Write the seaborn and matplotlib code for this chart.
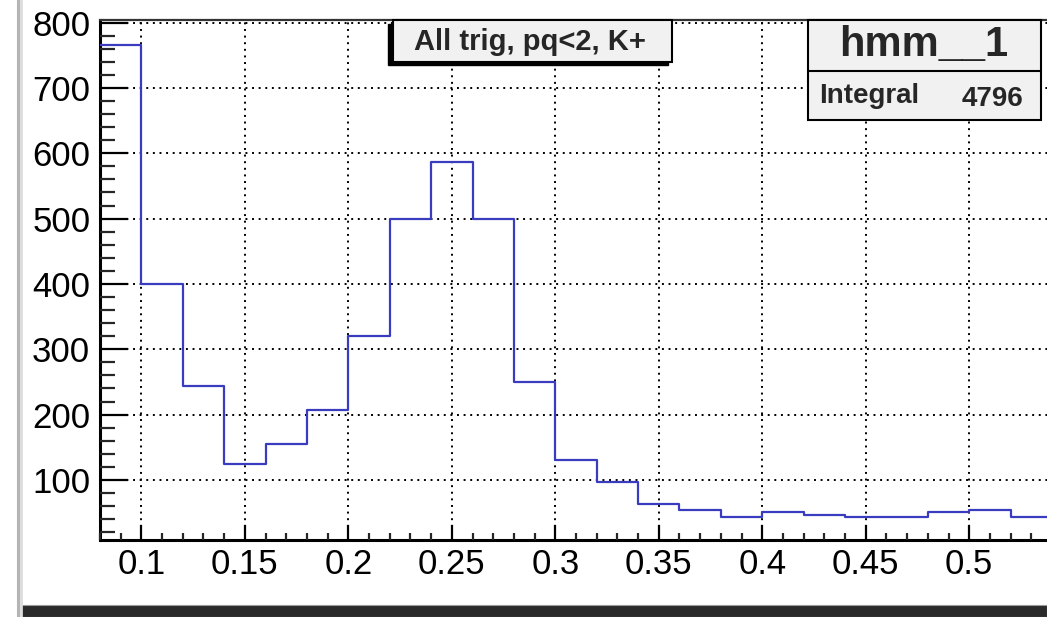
import numpy as np
import pandas as pd
import matplotlib
matplotlib.use("Agg")
import matplotlib.pyplot as plt
from matplotlib.patches import Rectangle
from matplotlib.lines import Line2D
from matplotlib.ticker import MultipleLocator
import seaborn as sns

# ---- data ----
bin_edges = [0.08, 0.10, 0.12, 0.14, 0.16, 0.18, 0.20, 0.22, 0.24, 0.26, 0.28, 0.30,
             0.32, 0.34, 0.36, 0.38, 0.40, 0.42, 0.44, 0.46, 0.48, 0.50, 0.52, 0.54]
counts = [765, 400, 243, 125, 155, 207, 320, 500, 587, 500, 250, 130,
          97, 63, 54, 43, 51, 46, 43, 43, 51, 54, 43]
x_ticks = [0.1, 0.15, 0.2, 0.25, 0.3, 0.35, 0.4, 0.45, 0.5]
x_tick_labels = ["0.1", "0.15", "0.2", "0.25", "0.3", "0.35", "0.4", "0.45", "0.5"]
y_ticks = [100, 200, 300, 400, 500, 600, 700, 800]
title_text = "All trig, pq<2, K+"
hist_name = "hmm__1"
integral_label = "Integral"
integral_value = "4796"

centers = [(a + b) / 2 for a, b in zip(bin_edges[:-1], bin_edges[1:])]
df = pd.DataFrame({"x": centers, "w": counts})

sns.set_style("white")
plt.rcParams["font.family"] = ["Liberation Sans", "DejaVu Sans"]

W, H = 1047, 617
fig = plt.figure(figsize=(W / 100, H / 100), dpi=100)

def fx(p):
    return p / W

def fy(p):
    return 1 - p / H

ax_left, ax_right, ax_top, ax_bottom = 100, 1052, 20, 540
ax = fig.add_axes([fx(ax_left), fy(ax_bottom), (ax_right - ax_left) / W, (ax_bottom - ax_top) / H])

sns.histplot(data=df, x="x", weights="w", bins=bin_edges, element="step", fill=False,
             color="#3a3cc0", linewidth=1.6, ax=ax, zorder=3)

ax.set_xlim(0.08, 0.54)
ax.set_ylim(8, 804)
ax.set_xlabel("")
ax.set_ylabel("")
ax.set_xticks(x_ticks)
ax.set_xticklabels(x_tick_labels)
ax.set_yticks(y_ticks)
ax.xaxis.set_minor_locator(MultipleLocator(0.01))
ax.yaxis.set_minor_locator(MultipleLocator(20))

ax.tick_params(axis="y", which="major", direction="in", length=20, width=1.6,
               labelsize=25, pad=7, left=True, colors="black")
ax.tick_params(axis="y", which="minor", direction="in", length=11, width=1.6, left=True)
ax.tick_params(axis="x", which="major", direction="in", length=11, width=1.6,
               labelsize=25, pad=6, bottom=True, colors="black")
ax.tick_params(axis="x", which="minor", direction="in", length=5, width=1.6, bottom=True)

for s in ["left", "bottom"]:
    ax.spines[s].set_linewidth(2.2)
    ax.spines[s].set_color("black")
ax.spines["top"].set_linewidth(1.6)
ax.spines["top"].set_color("#333333")
ax.spines["right"].set_visible(False)

ax.grid(True, which="major", color="black", linestyle=(0, (1, 2.4)), linewidth=1.4)
ax.set_axisbelow(False)

# left window border
fig.add_artist(Line2D([fx(18), fx(18)], [0, 1], color="#b4b4b4", lw=2.2))
fig.add_artist(Line2D([fx(20.5), fx(20.5)], [0, 1], color="#dcdcdc", lw=2.0))
# bottom dark bar
fig.add_artist(Rectangle((fx(21), 0), 1 - fx(21), (H - 605) / H,
                         transform=fig.transFigure, facecolor="#2a2a2a", edgecolor="#999999", lw=0.8))

# title box with shadow
fig.add_artist(Rectangle((fx(388), fy(65)), (668 - 388) / W, (65 - 24) / H,
                         transform=fig.transFigure, facecolor="black", edgecolor="black", zorder=5))
fig.add_artist(Rectangle((fx(393), fy(62)), (672 - 393) / W, (62 - 20) / H,
                         transform=fig.transFigure, facecolor="#f1f1f1", edgecolor="black", lw=1.5, zorder=6))
fig.text(fx(530), fy(42), title_text, ha="center", va="center", fontsize=21,
         fontweight="bold", zorder=7)

# stats box
fig.add_artist(Rectangle((fx(808), fy(120)), (1041 - 808) / W, (120 - 20) / H,
                         transform=fig.transFigure, facecolor="#f1f1f1", edgecolor="black", lw=1.5, zorder=6))
fig.add_artist(Line2D([fx(808), fx(1041)], [fy(71), fy(71)], color="black", lw=1.5, zorder=7))
fig.text(fx(924), fy(45), hist_name, ha="center", va="center", fontsize=30,
         fontweight="bold", zorder=8)
fig.text(fx(819), fy(96), integral_label, ha="left", va="center", fontsize=20,
         fontweight="bold", zorder=8)
fig.text(fx(1023), fy(99), integral_value, ha="right", va="center", fontsize=20,
         fontweight="bold", zorder=8)

fig.savefig("out.png", dpi=100)
